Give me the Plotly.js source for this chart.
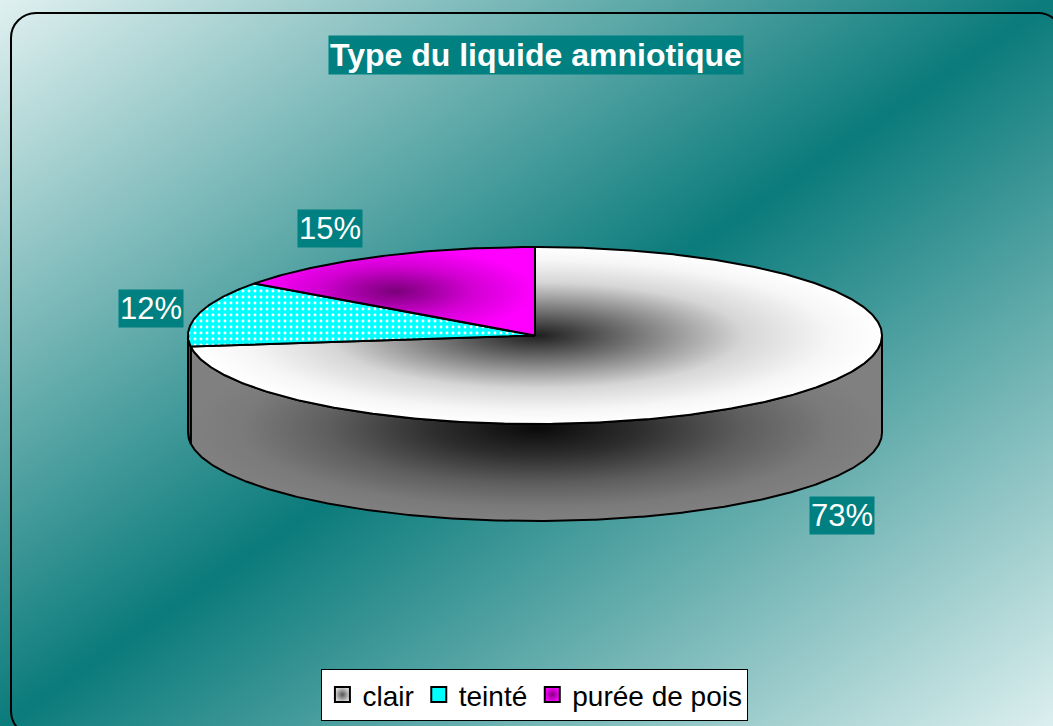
<!DOCTYPE html>
<html>
<head>
<meta charset="utf-8">
<script src="https://cdn.plot.ly/plotly-3.0.1.min.js"></script>
<style>
  html, body { margin: 0; padding: 0; overflow: hidden; width: 1053px; height: 726px; }
  #wrap { position: relative; width: 1053px; height: 726px; overflow: hidden;
          background: linear-gradient(to bottom right, #e0f0f0 0%, #0b7b7b 50%, #dcefef 100%); }
  #chart { position: absolute; left: 0; top: 0; width: 1053px; height: 726px; }
  #frame { position: absolute; left: 10px; top: 12px; width: 1050px; height: 721px;
           border: 2px solid #000; border-radius: 26px; pointer-events: none; }
</style>
</head>
<body>
<div id="wrap">
  <div id="chart"></div>
  <div id="frame"></div>
</div>
<script>
// ---- data ----
const categories = ["clair", "teinté", "purée de pois"];
const values = [73, 12, 15];
const chartTitle = "Type du liquide amniotique";

// ---- geometry / style (layout constants) ----
const W = 1053, H = 726;
const cx = 535, cy = 335.5, rx = 347, ry = 88.5, depth = 97;
const startAngle = 90; // degrees, clockwise
const labelAnchors = [[842, 515], [151, 308], [330, 228]];

const topStyles = [
  { fillgradient: { type: 'radial', colorscale: [[0, '#1e1e1e'], [0.3, '#7a7a7a'], [0.6, '#d6d6d6'], [0.85, '#f6f6f6'], [1, '#ffffff']] } },
  { fillcolor: '#00ffff', fillpattern: { shape: '.', bgcolor: '#00ffff', fgcolor: '#ffffff', size: 6, solidity: 0.18 } },
  { fillgradient: { type: 'radial', colorscale: [[0, '#7a007a'], [0.55, '#d200d2'], [1, '#ff00ff']] } }
];
const sideStyles = [
  { fillgradient: { type: 'radial',
      colorscale: [[0, '#0a0a0a'], [0.3, '#2e2e2e'], [0.6, '#5e5e5e'], [0.85, '#7a7a7a'], [1, '#808080']] } },
  { fillcolor: '#009a9a' },
  { fillcolor: '#800080' }
];
const legendMarkers = [
  { color: '#d8d8d8', gradient: { type: 'radial', color: '#555555' } },
  { color: '#00ffff' },
  { color: '#ff00ff', gradient: { type: 'radial', color: '#800080' } }
];

const rad = d => d * Math.PI / 180;
const px = t => cx + rx * Math.cos(rad(t));
const py = t => cy - ry * Math.sin(rad(t));

function arc(a1, a2) { // a1 > a2, decreasing
  const xs = [], ys = [];
  const n = Math.max(2, Math.ceil((a1 - a2) / 0.5));
  for (let i = 0; i <= n; i++) {
    const t = a1 - (a1 - a2) * i / n;
    xs.push(px(t)); ys.push(py(t));
  }
  return [xs, ys];
}

const total = values.reduce((a, b) => a + b, 0);
const slices = [];
let a = startAngle;
values.forEach((v, i) => {
  const sweep = v / total * 360;
  slices.push({ a1: a, a2: a - sweep, i });
  a -= sweep;
});

const sideTraces = [], topTraces = [];
slices.forEach(s => {
  // side: visible where sin < 0, i.e. angle in [-180+360k, 360k]
  for (let k = -2; k <= 1; k++) {
    const lo = Math.max(s.a2, -180 + 360 * k);
    const hi = Math.min(s.a1, 360 * k);
    if (hi - lo > 0.01) {
      const [xt, yt] = arc(hi, lo);
      const xb = xt.slice().reverse();
      const yb = yt.slice().reverse().map(y => y + depth);
      sideTraces.push(Object.assign({
        type: 'scatter', mode: 'lines', fill: 'toself',
        x: xt.concat(xb, [xt[0]]), y: yt.concat(yb, [yt[0]]),
        line: { color: '#000', width: 2 }, hoverinfo: 'skip', showlegend: false
      }, sideStyles[s.i]));
    }
  }
  const [xa, ya] = arc(s.a1, s.a2);
  topTraces.push(Object.assign({
    type: 'scatter', mode: 'lines', fill: 'toself',
    x: [cx].concat(xa, [cx]), y: [cy].concat(ya, [cy]),
    line: { color: '#000', width: 2 }, hoverinfo: 'skip', showlegend: false
  }, topStyles[s.i]));
});

const legendTraces = categories.map((c, i) => ({
  type: 'scatter', mode: 'markers', x: [null], y: [null], name: c,
  marker: Object.assign({ symbol: 'square', size: 15, line: { color: '#000', width: 2 } }, legendMarkers[i]),
  hoverinfo: 'skip'
}));

const annotations = values.map((v, i) => ({
  x: labelAnchors[i][0], y: labelAnchors[i][1], xref: 'x', yref: 'y',
  text: Math.round(v / total * 100) + '%', showarrow: false,
  font: { family: 'Liberation Sans, Arial, sans-serif', size: 31, color: '#ffffff' },
  bgcolor: '#008080', borderpad: 1
}));
annotations.push({
  x: 536, y: 55, xref: 'x', yref: 'y', text: '<b>' + chartTitle + '</b>', showarrow: false,
  font: { family: 'Liberation Sans, Arial, sans-serif', size: 32, color: '#ffffff' },
  bgcolor: '#008080', borderpad: 1
});

const layout = {
  width: W, height: H,
  margin: { l: 0, r: 0, t: 0, b: 0, pad: 0 },
  paper_bgcolor: 'rgba(0,0,0,0)', plot_bgcolor: 'rgba(0,0,0,0)',
  xaxis: { range: [0, W], visible: false, fixedrange: true },
  yaxis: { range: [H, 0], visible: false, fixedrange: true },
  showlegend: true,
  legend: {
    orientation: 'h', x: 0.508, xanchor: 'center', y: 0.007, yanchor: 'bottom',
    bgcolor: '#ffffff', bordercolor: '#000000', borderwidth: 1,
    font: { family: 'Liberation Sans, Arial, sans-serif', size: 28, color: '#000' },
    itemwidth: 30
  },
  annotations: annotations
};

Plotly.newPlot('chart', sideTraces.concat(topTraces, legendTraces), layout, { displayModeBar: false, staticPlot: true });
</script>
</body>
</html>
